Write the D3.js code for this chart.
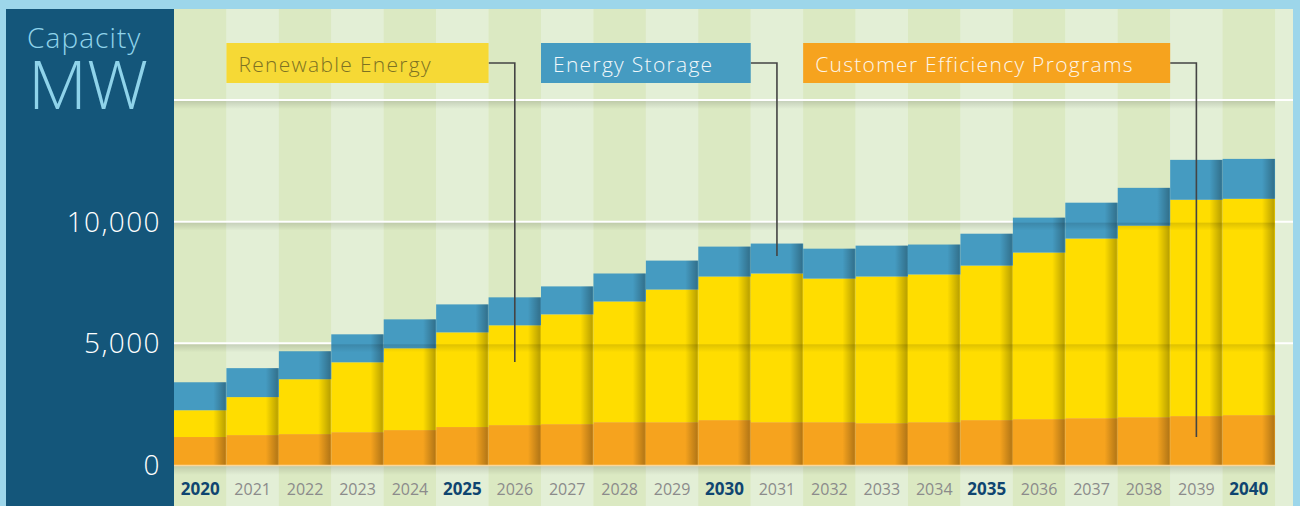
<html>
<head>
<style>
  body { margin: 0; background: #9dd6ea; overflow: hidden; }
  text { font-family: "Open Sans", "Noto Sans", sans-serif; }
</style>
<script src="https://d3js.org/d3.v7.min.js"></script>
</head>
<body>
<svg width="1300" height="506"></svg>
<script>
// --- data (MW) ---
const years = [2020, 2021, 2022, 2023, 2024, 2025, 2026, 2027, 2028, 2029, 2030,
               2031, 2032, 2033, 2034, 2035, 2036, 2037, 2038, 2039, 2040];
const efficiency = [1150, 1230, 1270, 1350, 1435, 1560, 1640, 1680, 1760, 1760, 1845,
                    1760, 1760, 1720, 1760, 1845, 1885, 1925, 1965, 2010, 2050];
const renewable = [1100, 1560, 2255, 2870, 3360, 3890, 4100, 4510, 4960, 5450, 5900,
                   6110, 5900, 6025, 6070, 6350, 6845, 7380, 7870, 8890, 8890];
const storage = [1150, 1190, 1150, 1150, 1190, 1150, 1150, 1150, 1150, 1190, 1230,
                 1230, 1230, 1270, 1230, 1310, 1435, 1475, 1555, 1640, 1640];
const seriesKeys = ["efficiency", "renewable", "storage"];
const seriesColors = ["#f6a31e", "#ffdd00", "#459bc1"];
const yTicks = [0, 5000, 10000];
const gridValues = [5000, 10000, 15000];
const boldYears = [2020, 2025, 2030, 2035, 2040];
const legendNames = ["Renewable Energy", "Energy Storage", "Customer Efficiency Programs"];
const legendFrom = [2021, 2027, 2032];
const legendTo = [2025, 2030, 2038];
const legendFill = ["#f6d935", "#459bc1", "#f6a31e"];
const legendText = ["#7d7223", "#f2f8fb", "#fdf6ea"];
const pointerYear = [2026, 2031, 2039];
const pointerValue = [4230, 8590, 1150];

const svg = d3.select("svg");
const W = 1300, H = 506;
const plotLeft = 174, plotRight = 1293, plotTop = 9;
const colW = 52.43;

const x = d3.scaleBand().domain(years).range([plotLeft, plotLeft + colW * years.length]);
const y = d3.scaleLinear().domain([0, 15000]).range([465, 100]);

const table = years.map((yr, i) => ({year: yr, efficiency: efficiency[i], renewable: renewable[i], storage: storage[i]}));
const stacked = d3.stack().keys(seriesKeys)(table);

const defs = svg.append("defs");
const shade = defs.append("linearGradient").attr("id", "shade").attr("x1", 0).attr("x2", 1).attr("y1", 0).attr("y2", 0);
shade.append("stop").attr("offset", 0.75).attr("stop-color", "#000").attr("stop-opacity", 0);
shade.append("stop").attr("offset", 0.97).attr("stop-color", "#000").attr("stop-opacity", 0.26);
shade.append("stop").attr("offset", 1).attr("stop-color", "#000").attr("stop-opacity", 0.1);
const gshadow = defs.append("linearGradient").attr("id", "gshadow").attr("x1", 0).attr("x2", 0).attr("y1", 0).attr("y2", 1);
gshadow.append("stop").attr("offset", 0).attr("stop-color", "#000").attr("stop-opacity", 0.13);
gshadow.append("stop").attr("offset", 1).attr("stop-color", "#000").attr("stop-opacity", 0);

// background columns
svg.append("rect").attr("x", plotLeft).attr("y", plotTop).attr("width", plotRight - plotLeft).attr("height", H - plotTop)
  .attr("fill", "#e3efd6");
svg.append("g").selectAll("rect").data(years).enter().append("rect")
  .attr("x", d => x(d)).attr("y", plotTop).attr("width", x.bandwidth()).attr("height", H - plotTop)
  .attr("fill", (d, i) => i % 2 == 0 ? "#dbe9c2" : "#e3efd6");

// gridlines (behind bars)
svg.append("g").selectAll("line").data(gridValues).enter().append("line")
  .attr("x1", plotLeft).attr("x2", plotRight).attr("y1", d => y(d)).attr("y2", d => y(d))
  .attr("stroke", "#ffffff").attr("stroke-width", 2);

// bars
svg.append("g").selectAll("g").data(stacked).enter().append("g")
  .attr("fill", (d, i) => seriesColors[i])
  .selectAll("rect").data(d => d).enter().append("rect")
  .attr("x", d => x(d.data.year)).attr("width", x.bandwidth())
  .attr("y", d => y(d[1])).attr("height", d => y(d[0]) - y(d[1]));

// right-edge shading on each bar
const totals = stacked[stacked.length - 1];
svg.append("g").selectAll("rect").data(totals).enter().append("rect")
  .attr("x", d => x(d.data.year)).attr("width", x.bandwidth())
  .attr("y", d => y(d[1])).attr("height", d => y(0) - y(d[1]))
  .attr("fill", "url(#shade)");

// shadow band under each gridline, over bars
svg.append("g").selectAll("rect").data(gridValues).enter().append("rect")
  .attr("x", plotLeft).attr("width", x.range()[1] - plotLeft)
  .attr("y", d => y(d) + 1).attr("height", 8).attr("fill", "url(#gshadow)");

// baseline
svg.append("rect").attr("x", plotLeft).attr("width", x.range()[1] - plotLeft)
  .attr("y", y(0) + 1).attr("height", 9).attr("fill", "url(#gshadow)");
svg.append("line").attr("x1", plotLeft).attr("x2", x.range()[1]).attr("y1", y(0) + 0.5).attr("y2", y(0) + 0.5)
  .attr("stroke", "#fbd79a").attr("stroke-width", 1.5);

// year labels
svg.append("g").selectAll("text").data(years).enter().append("text")
  .attr("x", d => x(d) + x.bandwidth() / 2).attr("y", 495)
  .attr("text-anchor", "middle")
  .attr("font-size", d => boldYears.includes(d) ? 17 : 16)
  .attr("font-weight", d => boldYears.includes(d) ? 700 : 400)
  .attr("fill", d => boldYears.includes(d) ? "#0f4570" : "#8b8b8b")
  .text(d => d);

// left panel
svg.append("rect").attr("x", 6).attr("y", plotTop).attr("width", plotLeft - 6).attr("height", H - plotTop).attr("fill", "#14567a");
svg.append("text").attr("x", 27).attr("y", 48).attr("font-size", 28).attr("font-weight", 300)
  .attr("letter-spacing", 1.1).attr("fill", "#8fd3ea").text("Capacity");
svg.append("text").attr("x", 28).attr("y", 109).attr("font-size", 66).attr("font-weight", 300)
  .attr("fill", "#8fd3ea").attr("textLength", 120).attr("lengthAdjust", "spacingAndGlyphs").text("MW");
svg.append("g").selectAll("text").data(yTicks).enter().append("text")
  .attr("x", 161).attr("y", d => y(d)).attr("dy", "0.36em")
  .attr("text-anchor", "end").attr("font-size", 28).attr("font-weight", 300)
  .attr("letter-spacing", 1.4)
  .attr("fill", "#ffffff").text(d => d3.format(",")(d));

// legend boxes with pointer lines
const legend = svg.append("g").selectAll("g").data(legendNames).enter().append("g");
legend.append("path")
  .attr("d", (d, i) => {
    const x0 = x(legendTo[i]) + x.bandwidth();
    const px = x(pointerYear[i]) + x.bandwidth() / 2;
    return "M" + x0 + ",63H" + px + "V" + y(pointerValue[i]);
  })
  .attr("fill", "none").attr("stroke", "#444").attr("stroke-width", 1.6);
legend.append("rect")
  .attr("x", (d, i) => x(legendFrom[i])).attr("y", 43)
  .attr("width", (d, i) => x(legendTo[i]) + x.bandwidth() - x(legendFrom[i])).attr("height", 40)
  .attr("fill", (d, i) => legendFill[i]);
legend.append("text")
  .attr("x", (d, i) => x(legendFrom[i]) + 12).attr("y", 72)
  .attr("font-size", 21).attr("font-weight", 300).attr("letter-spacing", 1.3)
  .attr("fill", (d, i) => legendText[i]).text(d => d);
</script>
</body>
</html>
